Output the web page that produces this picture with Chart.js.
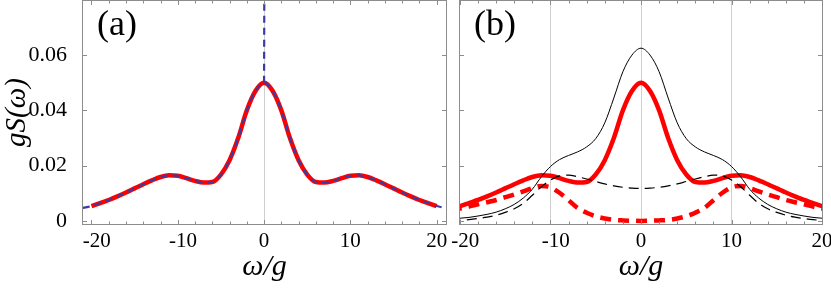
<!DOCTYPE html>
<html>
<head>
<meta charset="utf-8">
<script src="https://cdn.jsdelivr.net/npm/chart.js@4"></script>
<style>
  body { margin: 0; background: #fff; }
  #wrap { position: relative; width: 831px; height: 288px; }
  #wrap canvas { position: absolute; left: 0; top: 0; }
</style>
</head>
<body>
<div id="wrap">
  <canvas id="chartA" width="831" height="288"></canvas>
  <canvas id="chartB" width="831" height="288"></canvas>
</div>
<script>
// omega/g sample points
var omega = [-21, -20, -19, -18, -17, -16, -15, -14, -13, -12, -11, -10, -9, -8, -7, -6, -5, -4, -3, -2, -1,
  0, 1, 2, 3, 4, 5, 6, 7, 8, 9, 10, 11, 12, 13, 14, 15, 16, 17, 18, 19, 20, 21];

// thick red solid (both panels)
var sTotal = [0.0047, 0.0054, 0.0065, 0.0076, 0.0089, 0.0103, 0.0118, 0.0133, 0.0147, 0.0159, 0.0165,
  0.0164, 0.0155, 0.0145, 0.0139, 0.0141, 0.0168, 0.0220, 0.0300, 0.0400, 0.0470,
  0.0500,
  0.0470, 0.0400, 0.0300, 0.0220, 0.0168, 0.0141, 0.0139, 0.0145, 0.0155, 0.0164,
  0.0165, 0.0159, 0.0147, 0.0133, 0.0118, 0.0103, 0.0089, 0.0076, 0.0065, 0.0054, 0.0047];

// blue dashed spike at omega = 0 (panel a)
var spikeOmega = [0, 0.06];
var spikeS = [0.0500, 0.1200];

// panel b
var sBlackSolid = [0.0008, 0.0010, 0.0013, 0.0018, 0.0024, 0.0032, 0.0044, 0.0060, 0.0083, 0.0115, 0.0160,
  0.0197, 0.0222, 0.0237, 0.0250, 0.0268, 0.0298, 0.0355, 0.0445, 0.0540, 0.0600,
  0.0625,
  0.0600, 0.0540, 0.0445, 0.0355, 0.0298, 0.0268, 0.0250, 0.0237, 0.0222, 0.0197,
  0.0160, 0.0115, 0.0083, 0.0060, 0.0044, 0.0032, 0.0024, 0.0018, 0.0013, 0.0010, 0.0008];

var sBlackDashed = [0.0001, 0.0002, 0.0005, 0.0009, 0.0014, 0.0021, 0.0031, 0.0044, 0.0064, 0.0093, 0.0124,
  0.0148, 0.0163, 0.0166, 0.0160, 0.0152, 0.0143, 0.0134, 0.0127, 0.0122, 0.0119,
  0.0118,
  0.0119, 0.0122, 0.0127, 0.0134, 0.0143, 0.0152, 0.0160, 0.0166, 0.0163, 0.0148,
  0.0124, 0.0093, 0.0064, 0.0044, 0.0031, 0.0021, 0.0014, 0.0009, 0.0005, 0.0002, 0.0001];

var sRedDashed = [0.0040, 0.0045, 0.0052, 0.0060, 0.0068, 0.0076, 0.0086, 0.0096, 0.0107, 0.0119, 0.0127,
  0.0122, 0.0102, 0.0075, 0.0047, 0.0030, 0.0017, 0.0009, 0.0004, 0.0002, 0.0001,
  0.0000,
  0.0001, 0.0002, 0.0004, 0.0009, 0.0017, 0.0030, 0.0047, 0.0075, 0.0102, 0.0122,
  0.0127, 0.0119, 0.0107, 0.0096, 0.0086, 0.0076, 0.0068, 0.0060, 0.0052, 0.0045, 0.0040];

// ticks
var xTickValues = [-20, -18, -16, -14, -12, -10, -8, -6, -4, -2, 0, 2, 4, 6, 8, 10, 12, 14, 16, 18, 20];
var xTickLabels = [-20, -10, 0, 10, 20];
var yTickValues = [0, 0.02, 0.04, 0.06];

function pts(xs, ys, lim) {
  var out = [];
  for (var i = 0; i < xs.length; i++) {
    if (lim == undefined || Math.abs(xs[i]) <= lim) out.push({ x: xs[i], y: ys[i] });
  }
  return out;
}

var serif = "'Liberation Serif', 'DejaVu Serif', serif";

// frame, inward ticks and panel letter
var framePlugin = {
  id: "frame",
  afterDatasetsDraw: function (chart, args, opts) {
    var ctx = chart.ctx;
    var a = chart.chartArea;
    var x = chart.scales.x;
    var y = chart.scales.y;
    ctx.save();
    ctx.strokeStyle = "#8c8c8c";
    ctx.lineWidth = 1;
    ctx.strokeRect(Math.round(a.left) + 0.5, Math.round(a.top) + 0.5,
      Math.round(a.right - a.left) - 1, Math.round(a.bottom - a.top) - 1);
    ctx.beginPath();
    xTickValues.forEach(function (v) {
      var px = Math.round(x.getPixelForValue(v)) + 0.5;
      var len = xTickLabels.indexOf(v) >= 0 ? 5 : 3.5;
      ctx.moveTo(px, a.bottom);
      ctx.lineTo(px, a.bottom - len);
      ctx.moveTo(px, a.top);
      ctx.lineTo(px, a.top + len);
    });
    yTickValues.forEach(function (v) {
      var py = Math.round(y.getPixelForValue(v)) + 0.5;
      ctx.moveTo(a.left, py);
      ctx.lineTo(a.left + 5, py);
      ctx.moveTo(a.right, py);
      ctx.lineTo(a.right - 5, py);
    });
    ctx.stroke();
    ctx.fillStyle = "#000";
    ctx.font = "36px " + serif;
    ctx.textBaseline = "alphabetic";
    ctx.fillText(opts.text, a.left + 15, a.top + 35);
    ctx.restore();
  },
};

function makeOptions(leftWidth, rightPad, gridAt, showY, letter) {
  return {
    responsive: false,
    animation: false,
    devicePixelRatio: 1,
    layout: { padding: { left: 0, right: rightPad, top: 0, bottom: 0 } },
    plugins: { legend: { display: false }, tooltip: { enabled: false }, frame: { text: letter } },
    elements: { point: { radius: 0 } },
    scales: {
      x: {
        type: "linear",
        min: leftWidth > 100 ? -20.1 : -21.1,
        max: leftWidth > 100 ? 20.1 : 21.2,
        border: { display: false },
        grid: {
          drawTicks: false,
          lineWidth: 1,
          color: function (c) {
            return gridAt.indexOf(c.tick.value) >= 0 ? "#cfcfcf" : "rgba(0,0,0,0)";
          },
        },
        afterBuildTicks: function (scale) {
          scale.ticks = xTickValues.map(function (v) { return { value: v }; });
        },
        afterFit: function (scale) {
          scale.height = 63;
          scale.paddingLeft = 0;
          scale.paddingRight = 0;
        },
        ticks: {
          autoSkip: false,
          maxRotation: 0,
          padding: 4,
          color: "#000",
          font: { family: serif, size: 21 },
          callback: function (v) {
            if (xTickLabels.indexOf(v) < 0) return "";
            // minus sign hangs left of the tick, as in the original
            return v < 0 ? "\u2002" + String(v) : String(v);
          },
        },
        title: {
          display: true,
          text: "ω/g",
          color: "#000",
          padding: { top: 0, bottom: 3 },
          font: { family: serif, size: 30, style: "italic" },
        },
      },
      y: {
        type: "linear",
        min: -0.00145,
        max: 0.07993,
        border: { display: false },
        grid: { display: false },
        afterBuildTicks: function (scale) {
          scale.ticks = yTickValues.map(function (v) { return { value: v }; });
        },
        afterFit: function (scale) {
          scale.width = leftWidth;
          scale.paddingTop = 0;
          scale.paddingBottom = 0;
        },
        ticks: {
          display: showY,
          padding: 7,
          color: "#000",
          font: { family: serif, size: 22 },
          callback: function (v) {
            return v === 0 ? "0" : v.toFixed(2);
          },
        },
        title: {
          display: showY,
          text: "gS(ω)",
          color: "#000",
          padding: { top: 0, bottom: 0 },
          font: { family: serif, size: 29, style: "italic" },
        },
      },
    },
  };
}

new Chart(document.getElementById("chartA"), {
  type: "line",
  data: {
    datasets: [
      {
        data: pts(omega, sTotal),
        borderColor: "#3c3ca0",
        borderWidth: 2.2,
        borderDash: [7, 5],
        cubicInterpolationMode: "monotone",
        fill: false,
      },
      {
        data: pts(spikeOmega, spikeS),
        borderColor: "#3c3ca0",
        borderWidth: 2.2,
        borderDash: [7, 5],
        tension: 0,
        fill: false,
      },
      {
        data: pts(omega, sTotal, 20),
        borderColor: "#ff0000",
        borderWidth: 4.5,
        cubicInterpolationMode: "monotone",
        fill: false,
      },
    ],
  },
  options: makeOptions(82, 384, [0], true, "(a)"),
  plugins: [framePlugin],
});

new Chart(document.getElementById("chartB"), {
  type: "line",
  data: {
    datasets: [
      {
        data: pts(omega, sBlackSolid),
        borderColor: "#000",
        borderWidth: 1,
        cubicInterpolationMode: "monotone",
        fill: false,
      },
      {
        data: pts(omega, sBlackDashed),
        borderColor: "#000",
        borderWidth: 1.2,
        borderDash: [10, 6],
        cubicInterpolationMode: "monotone",
        fill: false,
      },
      {
        data: pts(omega, sRedDashed),
        borderColor: "#ff0000",
        borderWidth: 4.5,
        borderDash: [11, 7],
        cubicInterpolationMode: "monotone",
        fill: false,
      },
      {
        data: pts(omega, sTotal),
        borderColor: "#ff0000",
        borderWidth: 4.5,
        cubicInterpolationMode: "monotone",
        fill: false,
      },
    ],
  },
  options: makeOptions(459, 8, [-10, 0, 10], false, "(b)"),
  plugins: [framePlugin],
});
</script>
</body>
</html>
